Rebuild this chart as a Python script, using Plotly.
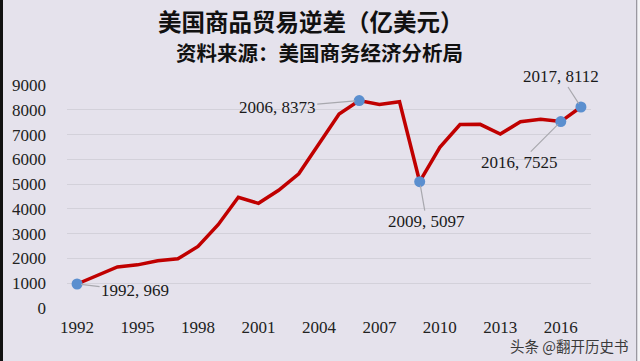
import plotly.graph_objects as go

# ---- data ----
years = list(range(1992, 2018))
deficit = [969, 1325, 1658, 1742, 1910, 1984, 2482, 3363, 4468, 4224, 4752, 5416,
           6648, 7828, 8373, 8212, 8325, 5097, 6487, 7406, 7411, 7022, 7515, 7619,
           7525, 8112]
x_tick_vals = [1992, 1995, 1998, 2001, 2004, 2007, 2010, 2013, 2016]
x_tick_text = ["1992", "1995", "1998", "2001", "2004", "2007", "2010", "2013", "2016"]
y_tick_vals = [0, 1000, 2000, 3000, 4000, 5000, 6000, 7000, 8000, 9000]
y_tick_text = ["0", "1000", "2000", "3000", "4000", "5000", "6000", "7000", "8000", "9000"]
label_years = [1992, 2006, 2009, 2016, 2017]
label_offsets = {1992: (58, 7), 2006: (-82, 7), 2009: (7, 40), 2016: (-41, 41), 2017: (-20, -31)}

title = "美国商品贸易逆差（亿美元）"
subtitle = "资料来源：美国商务经济分析局"
watermark = "头条 @翻开历史书"

BG = "#e5e2ec"
SERIF = "Liberation Serif"
CJK = "Noto Sans CJK SC"

fig = go.Figure()
fig.add_trace(go.Scatter(
    x=years, y=deficit, mode="lines",
    line=dict(color="#c00000", width=3.5),
    hoverinfo="skip", showlegend=False,
))
mk_y = [deficit[years.index(y)] for y in label_years]
fig.add_trace(go.Scatter(
    x=label_years, y=mk_y, mode="markers",
    marker=dict(color="#5b8fcf", size=11, line=dict(width=0)),
    showlegend=False,
))

for yr, v in zip(label_years, mk_y):
    ax, ay = label_offsets[yr]
    fig.add_annotation(
        x=yr, y=v, text=f"{yr}, {v}", showarrow=True, arrowhead=0,
        arrowcolor="#a8a8ae", arrowwidth=1.2, ax=ax, ay=ay, standoff=4,
        font=dict(family=SERIF, size=17, color="#1a1a1a"),
    )

def px_x(p):
    return (p - 67) / 524.0

def px_y(p):
    return (308 - p) / 223.0

fig.add_annotation(xref="paper", yref="paper", x=px_x(311), y=px_y(21.5),
                   text=title, showarrow=False, xanchor="center", yanchor="middle",
                   font=dict(family=CJK, size=23.5, color="#111111", weight="bold"))
fig.add_annotation(xref="paper", yref="paper", x=px_x(319), y=px_y(52.5),
                   text=subtitle, showarrow=False, xanchor="center", yanchor="middle",
                   font=dict(family=CJK, size=20.5, color="#111111", weight="bold"))
fig.add_annotation(xref="paper", yref="paper", x=px_x(630), y=px_y(345),
                   text=watermark, showarrow=False, xanchor="right", yanchor="middle",
                   font=dict(family=CJK, size=14.5, color="#3a3a3a"))

# frame edges
fig.add_shape(type="rect", xref="paper", yref="paper",
              x0=px_x(0), x1=px_x(3), y0=px_y(361), y1=px_y(0),
              fillcolor="#111111", line=dict(width=0), layer="above")
fig.add_shape(type="rect", xref="paper", yref="paper",
              x0=px_x(636), x1=px_x(637.5), y0=px_y(361), y1=px_y(0),
              fillcolor="#9a98a0", line=dict(width=0), layer="below")
fig.add_shape(type="rect", xref="paper", yref="paper",
              x0=px_x(637.5), x1=px_x(640), y0=px_y(361), y1=px_y(0),
              fillcolor="#f4f4f6", line=dict(width=0), layer="below")

fig.update_xaxes(range=[1991.5, 2017.5], tickvals=x_tick_vals, ticktext=x_tick_text,
                 showgrid=False, zeroline=False, showline=False, ticks="",
                 ticklabelstandoff=7, automargin=False,
                 tickfont=dict(family=SERIF, size=17, color="#222222"))
fig.update_yaxes(range=[0, 9000], tickvals=y_tick_vals, ticktext=y_tick_text,
                 showgrid=True, gridcolor="#d3d1da", gridwidth=1,
                 zeroline=False, showline=False, ticks="",
                 ticklabelstandoff=20, automargin=False,
                 tickfont=dict(family=SERIF, size=17, color="#222222"))

fig.update_layout(
    width=640, height=361,
    margin=dict(l=67, r=49, t=85, b=53, autoexpand=False),
    paper_bgcolor=BG, plot_bgcolor=BG,
    showlegend=False,
)

fig.write_html("out.html", config={"displayModeBar": False},
               post_script="document.body.style.margin='0';")
